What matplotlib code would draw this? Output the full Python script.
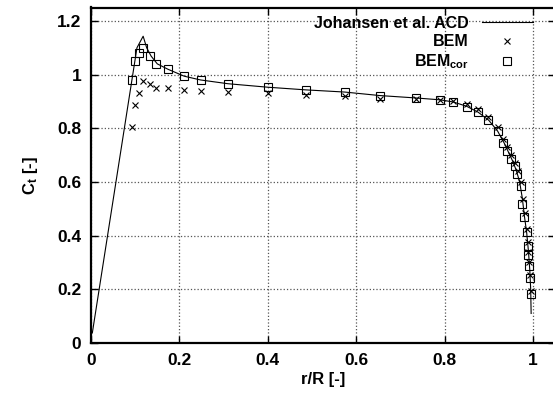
import matplotlib
matplotlib.use('Agg')
import matplotlib.pyplot as plt

plt.rcParams['font.family'] = ['Liberation Sans', 'DejaVu Sans']
plt.rcParams['font.weight'] = 'bold'
plt.rcParams['mathtext.fontset'] = 'custom'
plt.rcParams['mathtext.rm'] = 'Liberation Sans:bold'
plt.rcParams['mathtext.bf'] = 'Liberation Sans:bold'
plt.rcParams['mathtext.it'] = 'Liberation Sans:bold'

# Johansen et al. ACD (line)
acd_x = [0.003, 0.104, 0.118, 0.126, 0.136, 0.150, 0.174, 0.211, 0.248, 0.310, 0.400, 0.487,
         0.574, 0.653, 0.735, 0.790, 0.820, 0.850, 0.876, 0.900, 0.920, 0.935, 0.945, 0.955,
         0.963, 0.970, 0.976, 0.981, 0.986, 0.990, 0.993, 0.995, 0.996]
acd_y = [0.0375, 1.100, 1.143, 1.100, 1.069, 1.040, 1.020, 0.994, 0.980, 0.966, 0.953, 0.943,
         0.935, 0.922, 0.913, 0.906, 0.898, 0.882, 0.860, 0.830, 0.790, 0.745, 0.710, 0.675,
         0.640, 0.600, 0.540, 0.470, 0.410, 0.340, 0.270, 0.200, 0.110]

# BEM (crosses)
bem_x = [0.093, 0.100, 0.108, 0.118, 0.133, 0.148, 0.174, 0.211, 0.248, 0.311, 0.400, 0.487,
         0.574, 0.653, 0.735, 0.790, 0.820, 0.850, 0.876, 0.899, 0.921, 0.933, 0.942, 0.951,
         0.959, 0.966, 0.973, 0.977, 0.981, 0.986, 0.989, 0.990, 0.992, 0.994, 0.995]
bem_y = [0.805, 0.888, 0.932, 0.975, 0.966, 0.951, 0.949, 0.943, 0.939, 0.937, 0.930, 0.924,
         0.919, 0.910, 0.910, 0.906, 0.903, 0.889, 0.871, 0.841, 0.806, 0.760, 0.730, 0.700,
         0.672, 0.640, 0.598, 0.535, 0.483, 0.425, 0.375, 0.340, 0.300, 0.255, 0.195]

# BEM corrected (squares)
cor_x = [0.093, 0.100, 0.109, 0.118, 0.134, 0.148, 0.174, 0.211, 0.248, 0.311, 0.400, 0.487,
         0.574, 0.653, 0.735, 0.790, 0.820, 0.850, 0.876, 0.899, 0.921, 0.933, 0.942, 0.951,
         0.959, 0.965, 0.972, 0.976, 0.980, 0.986, 0.989, 0.989, 0.992, 0.993, 0.995]
cor_y = [0.981, 1.049, 1.080, 1.099, 1.070, 1.040, 1.020, 0.993, 0.979, 0.966, 0.952, 0.943,
         0.935, 0.922, 0.913, 0.906, 0.898, 0.881, 0.860, 0.831, 0.790, 0.746, 0.716, 0.685,
         0.659, 0.628, 0.584, 0.519, 0.469, 0.412, 0.363, 0.329, 0.288, 0.244, 0.184]

xticks = [0, 0.2, 0.4, 0.6, 0.8, 1.0]
xtick_labels = ['0', '0.2', '0.4', '0.6', '0.8', '1']
yticks = [0, 0.2, 0.4, 0.6, 0.8, 1.0, 1.2]
ytick_labels = ['0', '0.2', '0.4', '0.6', '0.8', '1', '1.2']

fig = plt.figure(figsize=(5.53, 4.01), dpi=100)
ax = fig.add_axes([91 / 553, 58 / 401, 464 / 553, 335.5 / 401])

ax.plot(acd_x, acd_y, color='black', lw=0.8, label='Johansen et al. ACD')
ax.plot(bem_x, bem_y, ls='none', marker='x', ms=4.5, mew=0.8, color='black', label='BEM')
ax.plot(cor_x, cor_y, ls='none', marker='s', ms=5.5, mew=0.8, mfc='none', mec='black',
        label=r'BEM$_{\mathbf{cor}}$')

ax.set_xlim(0, 1.05)
ax.set_ylim(0, 1.25)
ax.set_xticks(xticks)
ax.set_xticklabels(xtick_labels)
ax.set_yticks(yticks)
ax.set_yticklabels(ytick_labels)
ax.tick_params(direction='in', length=5, width=1, top=True, right=True, labelsize=12.5, pad=7)
ax.grid(True, ls=':', color='#555555', lw=0.9)
for s in ax.spines.values():
    s.set_linewidth(1.6)

ax.set_xlabel('r/R [-]', fontsize=12, fontweight='bold', labelpad=3)
ax.set_ylabel(r'C$_{\mathbf{t}}$ [-]', fontsize=12, fontweight='bold', labelpad=12)

ax.legend(loc='upper right', bbox_to_anchor=(1.0, 1.218), bbox_transform=ax.transData,
          markerfirst=False, frameon=False, fontsize=11.5, handlelength=3.2,
          handletextpad=0.8, labelspacing=0.2, borderpad=0, borderaxespad=0)

fig.savefig('out.png', dpi=100)
